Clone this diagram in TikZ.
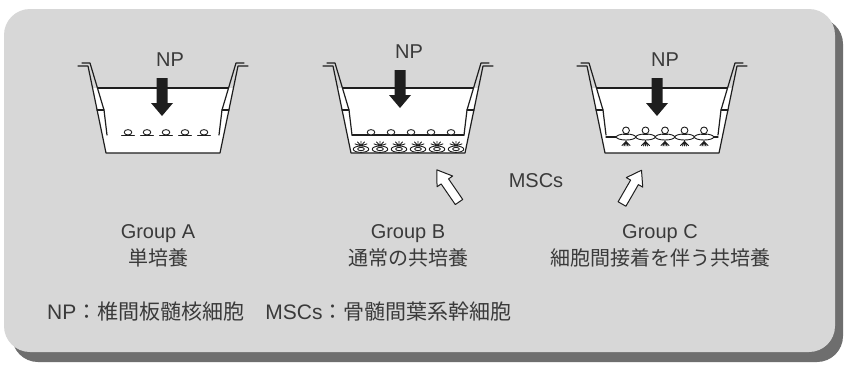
\documentclass[tikz,border=0pt]{standalone}
\usepackage{fontspec}
\setmainfont{Liberation Sans}
\newfontfamily\jpfont{Noto Sans CJK JP}
\definecolor{panelgray}{HTML}{D7D7D7}
\definecolor{shadowgray}{HTML}{6E6E6E}
\definecolor{linecol}{HTML}{1E1E1E}
\definecolor{textcol}{HTML}{3A3A3A}
\tikzset{
  ink/.style={draw=linecol, line width=1.2pt, line join=round, line cap=round},
  thin ink/.style={draw=linecol, line width=0.9pt, line join=round, line cap=round},
  label text/.style={text=textcol, inner sep=0pt, font=\fontsize{20}{24}\selectfont},
  % culture well with its insert; the membrane is drawn separately
  well/.pic={
    \fill[white] (-70.4,88) -- (70.4,88) -- (57,153) -- (-57,153) -- cycle;
    \draw[ink] (-85,66) -- (-75,66) -- (-57,153) -- (57,153) -- (75,66) -- (85,66);
    \draw[ink] (-81,63) -- (-73,63) -- (-59,110) -- (-56,135)
               (56,135) -- (59,110) -- (73,63) -- (81,63);
    \draw[ink] (-66,110) -- (-59,110) (59,110) -- (66,110);
    \draw[ink] (-65.5,88) -- (65.5,88);
  },
  % nucleus pulposus cell resting on the membrane
  npcell/.pic={
    \draw[thin ink] (-6.5,0) -- (6.5,0);
    \draw[thin ink, fill=white] (0,-2.7) ellipse [x radius=3.8, y radius=2.7];
  },
  % mesenchymal stem cell on the well bottom
  msccell/.pic={
    \draw[thin ink] (0,-6.5) -- (0,-11) (0,-6.5) -- (-3.5,-10.5) (0,-6.5) -- (3.5,-10.5)
                    (0,-6.5) -- (-6,-8.5) (0,-6.5) -- (6,-8.5);
    \draw[thin ink, fill=white] (0,-3.2) ellipse [x radius=7.8, y radius=3.2];
    \draw[thin ink] (0,-3.4) ellipse [x radius=3.4, y radius=1.6];
  },
  % NP cell and MSC in contact across the membrane
  contactpair/.pic={
    \draw[thin ink] (0,3) -- (0,9) (0,4.5) -- (-4,8.5) (0,4.5) -- (4,8.5) (0,4) -- (-2,9) (0,4) -- (2,9);
    \draw[thin ink, fill=white] (0,0) ellipse [x radius=9.7, y radius=3];
    \draw[thin ink, fill=white] (0,-6.6) circle [radius=3.4];
    \draw[thin ink] (-2.5,-3) -- (2.5,-3);
  },
  nparrow/.pic={
    \fill[linecol] (-5.5,0) -- (5.5,0) -- (5.5,25) -- (11,25) -- (0,38) -- (-11,25) -- (-5.5,25) -- cycle;
  },
  mscarrow/.pic={
    \draw[thin ink, line width=1pt, fill=white] (0,-4.5) -- (25,-4.5) -- (25,-9.5) -- (39,0)
      -- (25,9.5) -- (25,4.5) -- (0,4.5) -- cycle;
  },
}
\begin{document}
\begin{tikzpicture}[x=1pt, y=-1pt]
  \useasboundingbox (0,0) rectangle (845,367);
  \fill[white] (0,0) rectangle (845,367);
  % panel with drop shadow
  \fill[shadowgray, rounded corners=26] (12,18) rectangle (843,362);
  \fill[panelgray, rounded corners=26] (4,9) rectangle (835,352);

  % Group A: NP alone
  \pic at (163,0) {well};
  \foreach \dx in {-35,-16,3,22,41} \pic at (163+\dx,135) {npcell};
  \pic at (162,78) {nparrow};
  \node[label text] (npA) at (170,60) {NP};

  % Group B: ordinary co-culture
  \pic at (408,0) {well};
  \draw[ink] (352,135) -- (464,135);
  \foreach \dx in {-37,-17,3,23,43} \pic at (408+\dx,135) {npcell};
  \foreach \dx in {-47,-28,-9,10,29,48} \pic at (408+\dx,152.4) {msccell};
  \pic at (400,70) {nparrow};
  \node[label text] (npB) at (409,52) {NP};

  % Group C: co-culture with cell-cell contact
  \pic at (662,0) {well};
  \draw[ink] (606,137) -- (718,137);
  \foreach \dx in {-36,-16.5,3,22.5,42} \pic at (662+\dx,137) {contactpair};
  \pic at (657,78) {nparrow};
  \node[label text] (npC) at (665,60) {NP};

  % MSC arrows and label
  \pic[rotate=124.5] at (459,202) {mscarrow};
  \pic[rotate=60] at (622,204) {mscarrow};
  \node[label text] (msc) at (536,181) {MSCs};

  % group captions
  \node[label text] (gA) at (158,234) {Group A};
  \node[label text] (gAjp) at (158,258) {\jpfont 単培養};
  \node[label text] (gB) at (408,234) {Group B};
  \node[label text] (gBjp) at (408,258) {\jpfont 通常の共培養};
  \node[label text] (gC) at (660,234) {Group C};
  \node[label text] (gCjp) at (660,258) {\jpfont 細胞間接着を伴う共培養};

  % legend
  \node[label text, anchor=west, font=\fontsize{21}{25}\selectfont] (legend) at (47,312)
    {NP{\jpfont ：椎間板髄核細胞}\hspace{1em}MSCs{\jpfont ：骨髄間葉系幹細胞}};
\end{tikzpicture}
\end{document}
